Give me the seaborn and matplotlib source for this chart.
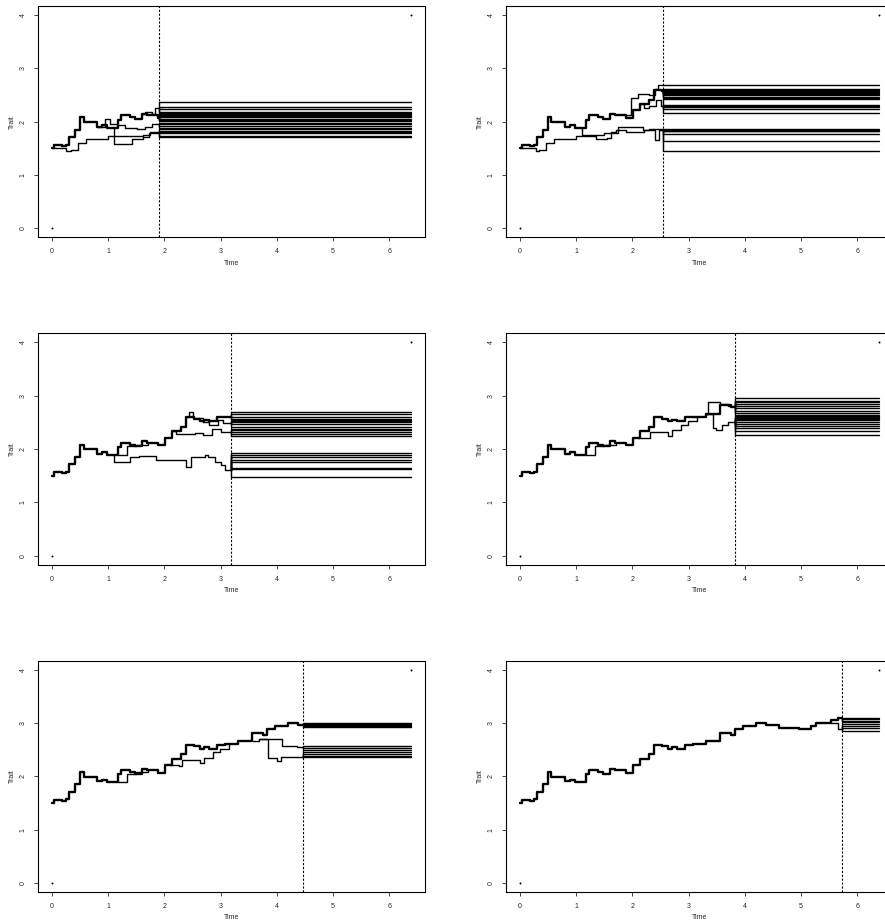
import numpy as np
import matplotlib.pyplot as plt
import seaborn as sns

# main lineage, shared by all snapshots (time, trait)
trunk_t = [0, 0.03, 0.18, 0.24, 0.30, 0.41, 0.49, 0.56, 0.80, 0.89, 0.98, 1.17, 1.23, 1.39, 1.47,
           1.60, 1.69, 1.89, 2.01, 2.13, 2.30, 2.39, 2.53, 2.63, 2.71, 2.79, 2.93, 3.07, 3.30, 3.55,
           3.75, 3.83, 3.96, 4.20, 4.37, 4.61, 4.96, 5.17, 5.26, 5.53, 5.65]
trunk_v = [1.50, 1.56, 1.54, 1.57, 1.71, 1.85, 2.08, 1.99, 1.91, 1.94, 1.89, 2.04, 2.12, 2.08, 2.05,
           2.14, 2.12, 2.07, 2.21, 2.33, 2.41, 2.59, 2.57, 2.52, 2.55, 2.52, 2.59, 2.60, 2.66, 2.82,
           2.78, 2.88, 2.95, 3.00, 2.97, 2.90, 2.88, 2.94, 3.00, 3.05, 3.10]

# side lineages that survive to the snapshot
p1_a_t = [0, 0.25, 0.34, 0.46, 0.60, 1.00, 1.40, 1.62, 1.75]
p1_a_v = [1.50, 1.45, 1.47, 1.61, 1.67, 1.73, 1.74, 1.76, 1.80]
p1_b_t = [0.80, 0.94, 1.03, 1.15, 1.30, 1.52, 1.65, 1.78]
p1_b_v = [1.91, 2.05, 1.95, 1.93, 1.88, 1.87, 1.90, 1.95]
p1_c_t = [1.10, 1.11, 1.43, 1.62, 1.72]
p1_c_v = [1.89, 1.58, 1.67, 1.72, 1.78]
p1_d_t = [1.60, 1.66, 1.78, 1.84]
p1_d_v = [2.14, 2.18, 2.15, 2.25]

p2_a_t = [0, 0.28, 0.34, 0.46, 0.60, 1.00, 1.36, 1.54, 1.61, 1.70, 1.89, 2.20, 2.41, 2.47]
p2_a_v = [1.50, 1.45, 1.47, 1.61, 1.67, 1.73, 1.67, 1.70, 1.80, 1.84, 1.81, 1.84, 1.65, 1.84]
p2_c_t = [1.09, 1.10, 1.50, 1.75, 2.19, 2.30]
p2_c_v = [1.89, 1.75, 1.78, 1.90, 1.84, 1.86]
p2_u_t = [1.89, 1.98, 2.10, 2.30, 2.40, 2.45]
p2_u_v = [2.12, 2.44, 2.52, 2.50, 2.62, 2.69]
p2_m_t = [2.13, 2.20, 2.30, 2.42, 2.50]
p2_m_v = [2.33, 2.25, 2.30, 2.40, 2.30]

p3_c_t = [1.09, 1.10, 1.38, 1.55, 1.85, 2.39, 2.48, 2.72, 2.78, 2.90, 3.00, 3.08]
p3_c_v = [1.89, 1.76, 1.84, 1.86, 1.80, 1.67, 1.84, 1.89, 1.84, 1.76, 1.70, 1.60]
p3_u_t = [2.39, 2.44, 2.51, 2.69, 2.80, 2.95, 3.05]
p3_u_v = [2.59, 2.70, 2.58, 2.50, 2.45, 2.55, 2.48]
p3_m_t = [2.13, 2.20, 2.55, 2.69, 2.85, 3.00]
p3_m_v = [2.33, 2.28, 2.30, 2.27, 2.38, 2.32]

p4_u_t = [3.30, 3.34, 3.55, 3.70]
p4_u_v = [2.66, 2.87, 2.85, 2.80]
p4_l_t = [3.30, 3.43, 3.49, 3.60, 3.70]
p4_l_v = [2.66, 2.40, 2.35, 2.45, 2.50]

p5_a_t = [3.57, 3.69, 4.10, 4.35]
p5_a_v = [2.66, 2.70, 2.57, 2.55]
p5_b_t = [3.69, 3.85, 4.01, 4.08]
p5_b_v = [2.70, 2.35, 2.28, 2.37]

p6_a_t = [5.53, 5.65]
p6_a_v = [3.00, 2.88]

# short excursions that rejoin the main lineage
early_t = [1.17, 1.33, 1.50, 1.70]
early_v = [1.89, 2.05, 2.08, 2.12]
side_t = [2.10, 2.25, 2.31, 2.63, 2.70, 2.87, 2.99, 3.14]
side_v = [2.21, 2.20, 2.31, 2.25, 2.35, 2.45, 2.52, 2.60]

# snapshot times and trait values of living lineages
cuts = [1.91, 2.55, 3.18, 3.82, 4.46, 5.72]
tips1 = [2.36, 2.28, 2.24, 2.18, 2.16, 2.14, 2.12, 2.10, 2.08, 2.06, 2.04, 2.02, 1.98, 1.95,
         1.92, 1.89, 1.86, 1.83, 1.81, 1.79, 1.74, 1.72]
tips2 = [2.69, 2.62, 2.60, 2.58, 2.56, 2.54, 2.52, 2.50, 2.47, 2.44, 2.42, 2.32, 2.30, 2.27,
         2.24, 2.17, 1.87, 1.85, 1.83, 1.82, 1.77, 1.64, 1.45]
tips3 = [2.70, 2.66, 2.60, 2.57, 2.55, 2.52, 2.50, 2.46, 2.42, 2.38, 2.35, 2.32, 2.28, 2.25,
         1.93, 1.89, 1.84, 1.80, 1.76, 1.64, 1.62, 1.48]
tips4 = [2.96, 2.90, 2.87, 2.84, 2.80, 2.76, 2.72, 2.68, 2.64, 2.62, 2.60, 2.58, 2.56, 2.54,
         2.50, 2.46, 2.43, 2.39, 2.33, 2.27]
tips5 = [3.00, 2.98, 2.96, 2.94, 2.92, 2.57, 2.53, 2.49, 2.45, 2.41, 2.38, 2.36]
tips6 = [3.10, 3.07, 3.04, 3.01, 2.98, 2.95, 2.90, 2.85]
t_end = 6.38

panels = [
    (cuts[0], [(p1_a_t, p1_a_v), (p1_b_t, p1_b_v), (p1_c_t, p1_c_v), (p1_d_t, p1_d_v)], [], tips1),
    (cuts[1], [(p2_a_t, p2_a_v), (p2_c_t, p2_c_v), (p2_u_t, p2_u_v), (p2_m_t, p2_m_v)], [], tips2),
    (cuts[2], [(p3_c_t, p3_c_v), (p3_u_t, p3_u_v), (p3_m_t, p3_m_v)], [(early_t, early_v)], tips3),
    (cuts[3], [(p4_u_t, p4_u_v), (p4_l_t, p4_l_v)], [(early_t, early_v), (side_t, side_v)], tips4),
    (cuts[4], [(p5_a_t, p5_a_v), (p5_b_t, p5_b_v)], [(early_t, early_v), (side_t, side_v)], tips5),
    (cuts[5], [(p6_a_t, p6_a_v)], [], tips6),
]

sns.set_style("ticks")
plt.rcParams["font.family"] = ["Liberation Sans", "DejaVu Sans"]

fig = plt.figure(figsize=(8.85, 9.21), dpi=100)
lefts = [0.0426, 0.5714]
bottoms = [0.7423, 0.387, 0.0315]


def draw_path(ax, t, v, cut, lw, alive=True):
    t = np.asarray(t)
    v = np.asarray(v)
    if alive:
        keep = t < cut
        xs = np.append(t[keep], cut)
        ys = np.append(v[keep], v[keep][-1])
    else:
        xs, ys = t, v
    sns.lineplot(x=xs, y=ys, drawstyle="steps-post", color="black", lw=lw,
                 estimator=None, sort=False, ax=ax)
    return ys[-1]


for i, (cut, paths, merged, tips) in enumerate(panels):
    ax = fig.add_axes([lefts[i % 2], bottoms[i // 2], 0.4376, 0.2511])
    ends = [draw_path(ax, trunk_t, trunk_v, cut, 1.7)]
    for t, v in paths:
        ends.append(draw_path(ax, t, v, cut, 1.0))
    for t, v in merged:
        draw_path(ax, t, v, cut, 1.0, alive=False)
    for tip in tips:
        start = min(ends, key=lambda e: abs(e - tip))
        sns.lineplot(x=[cut, cut, t_end], y=[start, tip, tip], color="black", lw=1.0,
                     estimator=None, sort=False, ax=ax)
    ax.axvline(cut, color="black", lw=0.8, ls=(0, (2, 1.5)))
    sns.scatterplot(x=[0, t_end], y=[0, 4], color="black", s=2, linewidth=0, ax=ax)

    ax.set_xlim(-0.255, 6.635)
    ax.set_ylim(-0.166, 4.166)
    ax.set_xticks(range(7))
    ax.set_yticks(range(5))
    ax.tick_params(labelsize=5, length=3, width=0.6, pad=5)
    for lab in ax.get_yticklabels():
        lab.set_rotation(90)
        lab.set_va("center")
    for s in ax.spines.values():
        s.set_visible(True)
        s.set_linewidth(0.8)
        s.set_color("black")
    ax.set_xlabel("Time", fontsize=5, labelpad=3)
    ax.set_ylabel("Trait", fontsize=5, labelpad=3)

plt.savefig("out.png", dpi=100)
